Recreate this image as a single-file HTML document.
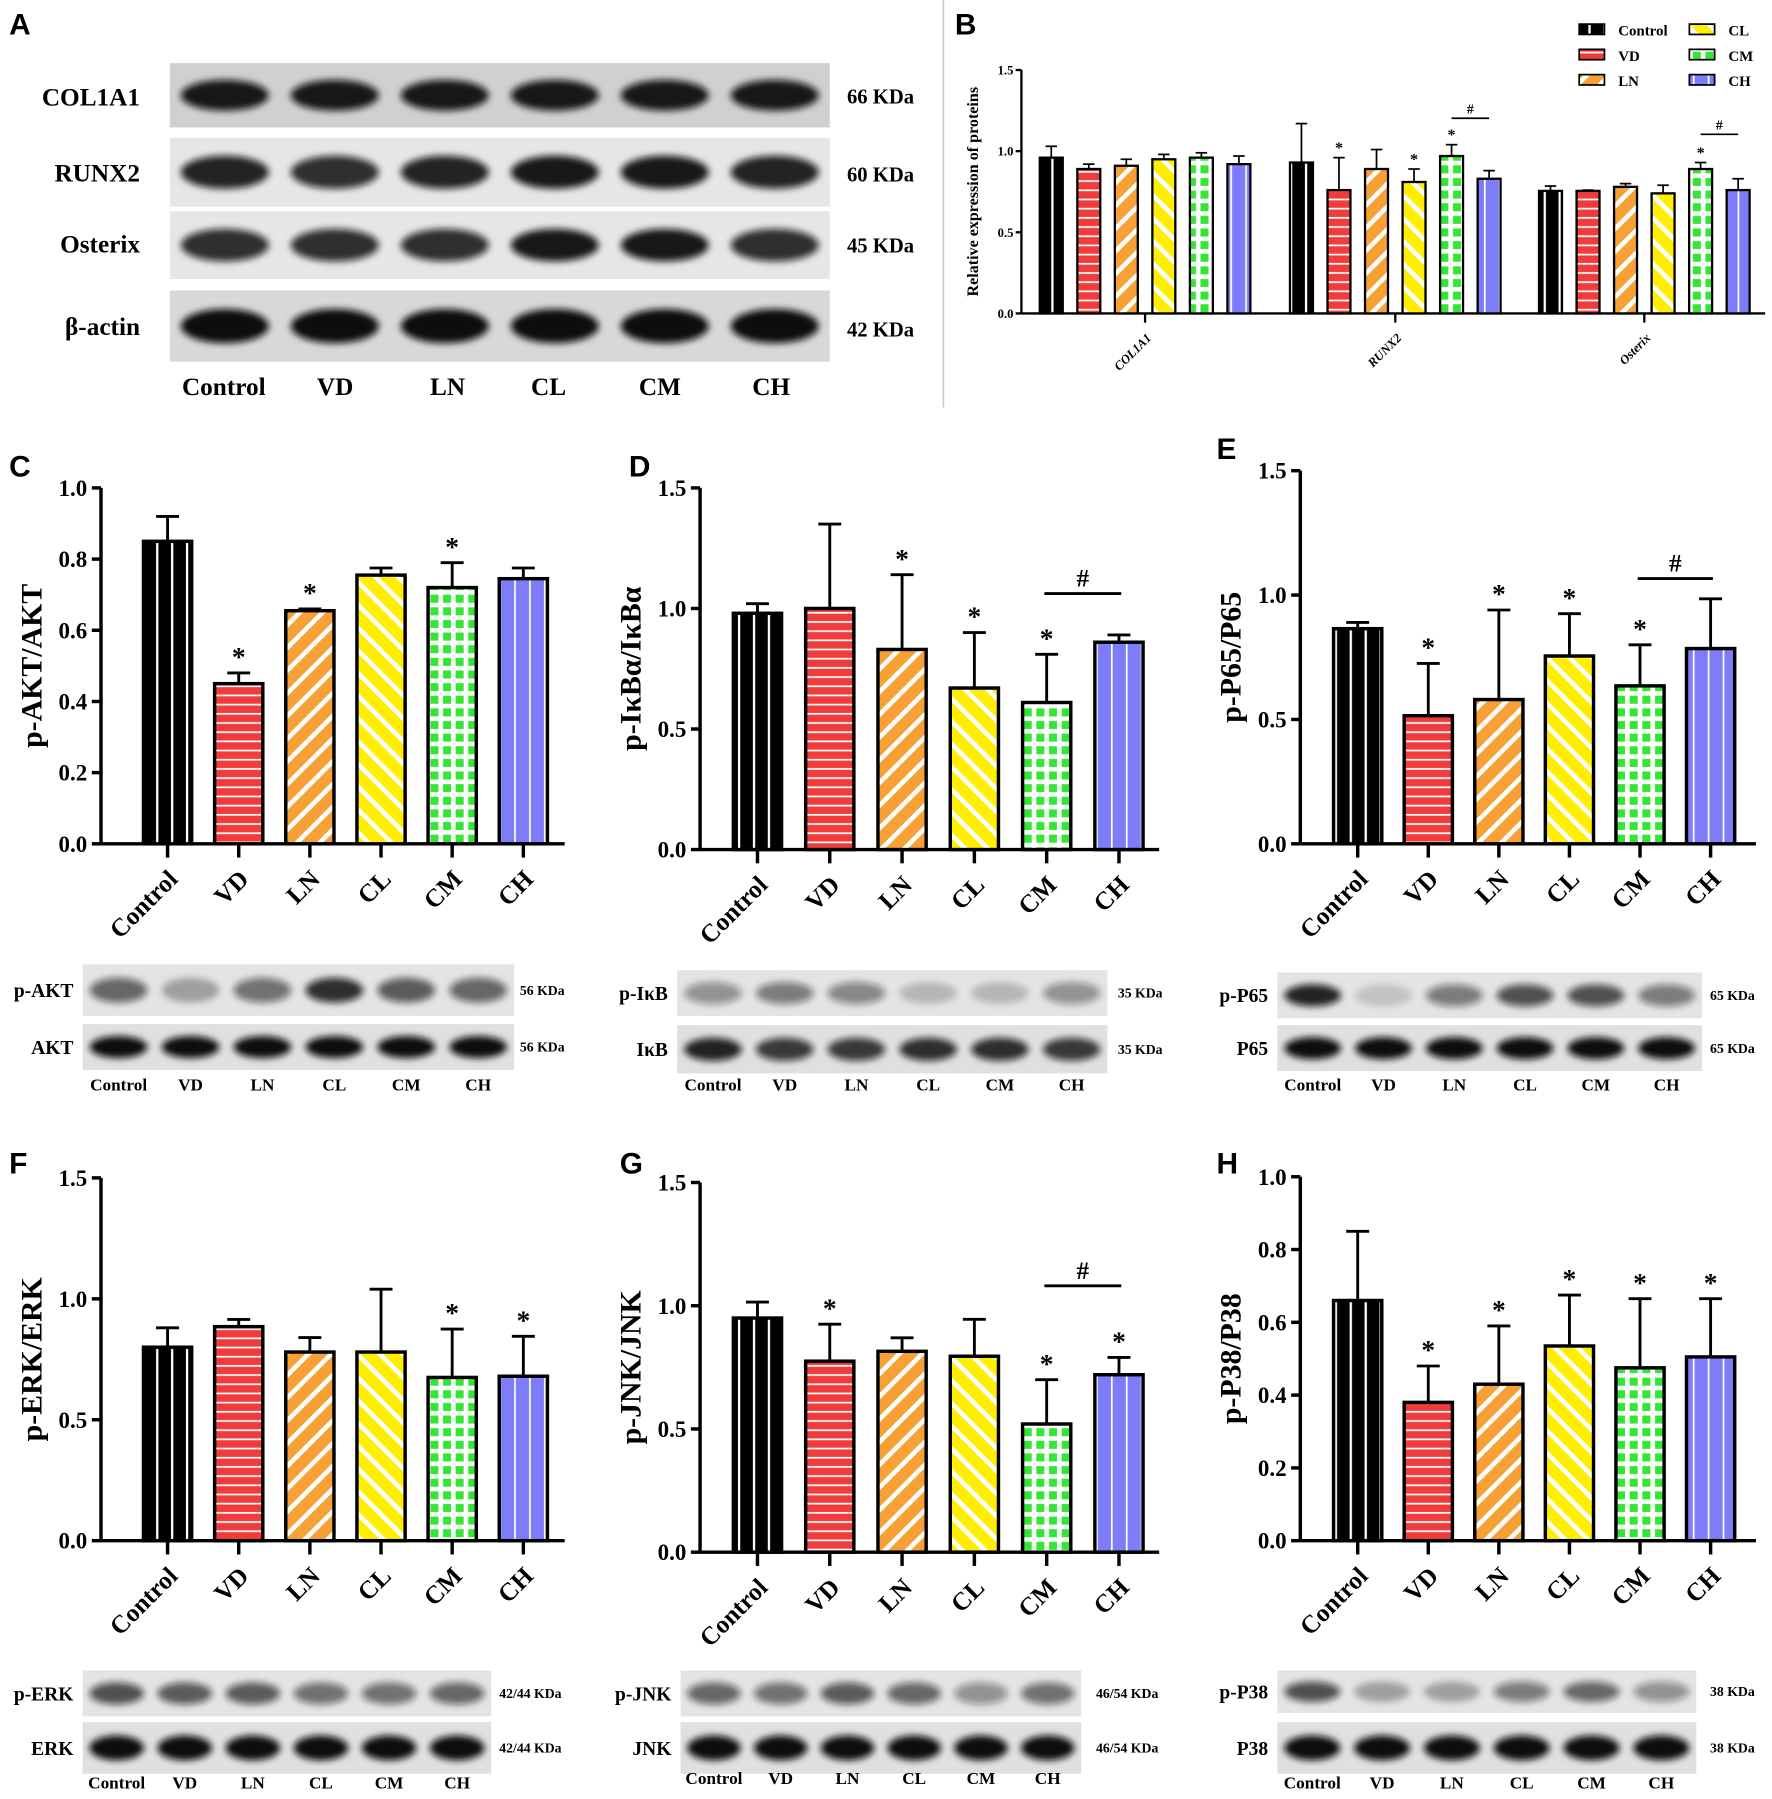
<!DOCTYPE html>
<html><head><meta charset="utf-8"><style>
html,body{margin:0;padding:0;background:#fff}
svg{display:block}
text{font-family:"Liberation Serif",serif;font-weight:bold;fill:#000}
.pl{font-family:"Liberation Sans",sans-serif;font-size:26px}
</style></head><body>
<svg id="fig" xmlns="http://www.w3.org/2000/svg" width="1772" height="1799" viewBox="0 0 1544 1567" preserveAspectRatio="none">
<defs>
<pattern id="pCtrl" patternUnits="userSpaceOnUse" width="13" height="10"><rect width="13" height="10" fill="#000"/><rect x="6" width="2" height="10" fill="#fff"/></pattern>
<pattern id="pVD" patternUnits="userSpaceOnUse" width="10" height="8"><rect width="10" height="8" fill="#f23c3c"/><rect y="5" width="10" height="1.5" fill="#fff"/></pattern>
<pattern id="pLN" patternUnits="userSpaceOnUse" width="14" height="14" patternTransform="rotate(45)"><rect width="14" height="14" fill="#f7a035"/><rect width="4" height="14" fill="#fff"/></pattern>
<pattern id="pCL" patternUnits="userSpaceOnUse" width="14" height="14" patternTransform="rotate(-45)"><rect width="14" height="14" fill="#ffee00"/><rect width="4" height="14" fill="#fff"/></pattern>
<pattern id="pCM" patternUnits="userSpaceOnUse" width="11" height="11"><rect width="11" height="11" fill="#fff"/><rect x="1" y="1" width="7" height="7" fill="#33e633"/></pattern>
<pattern id="pCH" patternUnits="userSpaceOnUse" width="13" height="10"><rect width="13" height="10" fill="#7d7dfa"/><rect x="6" width="1.5" height="10" fill="#fff"/></pattern>
<filter id="blur" x="-20%" y="-50%" width="140%" height="200%"><feGaussianBlur stdDeviation="3"/></filter>
</defs>
<g id="root"></g>
</svg>
<script>
// ---- chart data ----
const groups = ["Control","VD","LN","CL","CM","CH"];
const cVals = [0.85,0.45,0.655,0.755,0.72,0.745];
const cErrs = [0.07,0.03,0.005,0.02,0.07,0.03];
const cStars = [0,1,1,0,1,0];
const cTicks = ["0.0","0.2","0.4","0.6","0.8","1.0"];
const dVals = [0.98,1.0,0.83,0.67,0.61,0.86];
const dErrs = [0.04,0.35,0.31,0.23,0.2,0.03];
const dStars = [0,0,1,1,1,0];
const dTicks = ["0.0","0.5","1.0","1.5"];
const eVals = [0.865,0.515,0.58,0.755,0.635,0.785];
const eErrs = [0.025,0.21,0.36,0.17,0.165,0.2];
const eStars = [0,1,1,1,1,0];
const eTicks = ["0.0","0.5","1.0","1.5"];
const fVals = [0.80,0.885,0.78,0.78,0.675,0.68];
const fErrs = [0.08,0.03,0.06,0.26,0.2,0.165];
const fStars = [0,0,0,0,1,1];
const fTicks = ["0.0","0.5","1.0","1.5"];
const gVals = [0.95,0.775,0.815,0.795,0.52,0.72];
const gErrs = [0.065,0.15,0.055,0.15,0.18,0.07];
const gStars = [0,1,0,0,1,1];
const gTicks = ["0.0","0.5","1.0","1.5"];
const hVals = [0.66,0.38,0.43,0.535,0.475,0.505];
const hErrs = [0.19,0.1,0.16,0.14,0.19,0.16];
const hStars = [0,1,1,1,1,1];
const hTicks = ["0.0","0.2","0.4","0.6","0.8","1.0"];
const bCats = ["COL1A1","RUNX2","Osterix"];
const bCol1a1 = [0.96,0.89,0.91,0.95,0.96,0.92];
const bCol1a1Err = [0.07,0.03,0.04,0.03,0.03,0.05];
const bRunx2 = [0.93,0.76,0.89,0.81,0.97,0.83];
const bRunx2Err = [0.24,0.2,0.12,0.08,0.07,0.05];
const bOsterix = [0.755,0.755,0.78,0.74,0.89,0.76];
const bOsterixErr = [0.03,0.005,0.02,0.05,0.04,0.07];
const bStars = [[0,0,0,0,0,0],[0,1,0,1,1,0],[0,0,0,0,1,0]];
const bTicks = ["0.0","0.5","1.0","1.5"];

const pats = ["pCtrl","pVD","pLN","pCL","pCM","pCH"];
const NS = "http://www.w3.org/2000/svg";
const root = document.getElementById('root');
function el(tag, attrs, parent, txt){
  const e = document.createElementNS(NS, tag);
  for (const k in attrs) e.setAttribute(k, attrs[k]);
  if (txt !== undefined) e.textContent = txt;
  (parent||root).appendChild(e);
  return e;
}

function chart(o){
  const g = el('g', {});
  
  
  const ymax = parseFloat(o.ticks[o.ticks.length-1]);
  const y = v => o.y0 - (v/ymax)*(o.y0-o.y1);
  const x = i => o.x0 + o.first + i*o.step;
  // axes
  el('line',{x1:o.x0,y1:o.y1,x2:o.x0,y2:o.y0,stroke:'#000','stroke-width':3},g);
  el('line',{x1:o.x0,y1:o.y0,x2:o.xEnd,y2:o.y0,stroke:'#000','stroke-width':3},g);
  o.ticks.forEach(t=>{
    const ty = y(parseFloat(t));
    el('line',{x1:o.x0-8,y1:ty,x2:o.x0,y2:ty,stroke:'#000','stroke-width':3},g);
    const tt = el('text',{x:o.x0-12,y:ty+7,'text-anchor':'end','font-size':20},g,t);
    
    
  });
  const yt = el('text',{x:0,y:0,'text-anchor':'middle','font-size':26,transform:`translate(${o.x0-52},${(o.y0+o.y1)/2}) rotate(-90)`},g,o.ylabel);
  
  
  o.vals.forEach((v,i)=>{
    const cx = x(i), top = y(v), ey = y(v+o.errs[i]);
    el('line',{x1:cx,y1:top,x2:cx,y2:ey,stroke:'#000','stroke-width':2.5},g);
    el('line',{x1:cx-10,y1:ey,x2:cx+10,y2:ey,stroke:'#000','stroke-width':2.5},g);
    const r = el('rect',{x:cx-o.bw/2,y:top,width:o.bw,height:o.y0-top,fill:`url(#${pats[i]})`,stroke:'#000','stroke-width':3},g);
    
    
    el('line',{x1:cx,y1:o.y0,x2:cx,y2:o.y0+12,stroke:'#000','stroke-width':3},g);
    const lb = el('text',{x:0,y:0,'text-anchor':'end','font-size':22,transform:`translate(${cx+10},${o.y0+32}) rotate(-45)`},g,groups[i]);
    
    
    if (o.stars[i]) {
      const s = el('text',{x:cx,y:ey-6,'text-anchor':'middle','font-size':24},g,'*');
      
      
    }
  });
  if (o.hash) {
    const hy = o.hashY;
    el('line',{x1:x(4)-2,y1:hy,x2:x(5)+2,y2:hy,stroke:'#000','stroke-width':2.5},g);
    const h = el('text',{x:(x(4)+x(5))/2,y:hy-6,'text-anchor':'middle','font-size':22},g,'#');
    
    
  }
}

chart({name:'chart-c-pakt',x0:88,y0:735,y1:425,xEnd:492,first:58,step:62,bw:42,vals:cVals,errs:cErrs,stars:cStars,ticks:cTicks,ylabel:'p-AKT/AKT'});
chart({name:'chart-d-pikba',x0:610,y0:740,y1:425,xEnd:1010,first:50,step:63,bw:42,vals:dVals,errs:dErrs,stars:dStars,ticks:dTicks,ylabel:'p-IκBα/IκBα',hash:1,hashY:517});
chart({name:'chart-e-pp65',x0:1133,y0:735,y1:410,xEnd:1530,first:50,step:61.5,bw:42,vals:eVals,errs:eErrs,stars:eStars,ticks:eTicks,ylabel:'p-P65/P65',hash:1,hashY:504});
chart({name:'chart-f-perk',x0:88,y0:1342,y1:1026,xEnd:492,first:58,step:62,bw:42,vals:fVals,errs:fErrs,stars:fStars,ticks:fTicks,ylabel:'p-ERK/ERK'});
chart({name:'chart-g-pjnk',x0:610,y0:1352,y1:1030,xEnd:1010,first:50,step:63,bw:42,vals:gVals,errs:gErrs,stars:gStars,ticks:gTicks,ylabel:'p-JNK/JNK',hash:1,hashY:1120});
chart({name:'chart-h-pp38',x0:1133,y0:1342,y1:1025,xEnd:1530,first:50,step:61.5,bw:42,vals:hVals,errs:hErrs,stars:hStars,ticks:hTicks,ylabel:'p-P38/P38'});

// ---- chart B ----
(function(){
  const g = el('g',{});
  
  
  const x0=890,y0=273,y1=61,xEnd=1538;
  const y = v => y0 - v/1.5*(y0-y1);
  const series=[bCol1a1,bRunx2,bOsterix], errs=[bCol1a1Err,bRunx2Err,bOsterixErr];
  const gStart=[916,1134,1351], step=32.7, bw=20;
  el('line',{x1:x0,y1:y1,x2:x0,y2:y0,stroke:'#000','stroke-width':2},g);
  el('line',{x1:x0,y1:y0,x2:xEnd,y2:y0,stroke:'#000','stroke-width':2},g);
  bTicks.forEach(t=>{const ty=y(parseFloat(t));
    el('line',{x1:x0-5,y1:ty,x2:x0,y2:ty,stroke:'#000','stroke-width':2},g);
    el('text',{x:x0-7,y:ty+4,'text-anchor':'end','font-size':11},g,t);});
  el('text',{x:0,y:0,'text-anchor':'middle','font-size':14,transform:`translate(${x0-38},${(y0+y1)/2}) rotate(-90)`},g,'Relative expression of proteins');
  series.forEach((vals,k)=>{
    vals.forEach((v,i)=>{
      const cx=gStart[k]+i*step, top=y(v), ey=y(v+errs[k][i]);
      el('line',{x1:cx,y1:top,x2:cx,y2:ey,stroke:'#000','stroke-width':1.5},g);
      el('line',{x1:cx-5,y1:ey,x2:cx+5,y2:ey,stroke:'#000','stroke-width':1.5},g);
      const r=el('rect',{x:cx-bw/2,y:top,width:bw,height:y0-top,fill:`url(#${pats[i]})`,stroke:'#000','stroke-width':2},g);
      
      
      if (bStars[k][i]) el('text',{x:cx,y:ey-4,'text-anchor':'middle','font-size':14,'font-weight':'normal'},g,'*');
    });
    const mid=gStart[k]+2.5*step;
    el('line',{x1:mid,y1:y0,x2:mid,y2:y0+8,stroke:'#000','stroke-width':2},g);
    const lb=el('text',{x:0,y:0,'text-anchor':'end','font-size':11,'font-style':'italic',transform:`translate(${mid+6},${y0+22}) rotate(-45)`},g,bCats[k]);
    
    
  });
  [[1,103],[2,117]].forEach(([k,hy])=>{
    const a=gStart[k]+4*step,b=gStart[k]+5*step;
    el('line',{x1:a,y1:hy,x2:b,y2:hy,stroke:'#000','stroke-width':1.5},g);
    el('text',{x:(a+b)/2,y:hy-4,'text-anchor':'middle','font-size':12,'font-weight':'normal'},g,'#');
  });
  const lg=el('g',{},g);
  
  
  groups.forEach((n,i)=>{
    const lx = i<3 ? 1376 : 1472, ly = 28 + (i%3)*22;
    const col = i<3 ? i*2 : (i-3)*2+1;
  });
  const order=[[0,1376,28],[1,1376,50],[2,1376,72],[3,1472,28],[4,1472,50],[5,1472,72]];
  order.forEach(([i,lx,ly])=>{
    el('rect',{x:lx,y:ly-7,width:22,height:9,fill:`url(#${pats[i]})`,stroke:'#000','stroke-width':1.5},lg);
    el('text',{x:lx+34,y:ly+3,'font-size':13,'font-weight':'normal'},lg,groups[i]);
  });
})();

// ---- blots ----
function blot(name,x,y,w,h,ints,bg,lanePad){
  const g=el('g',{});
  
  
  el('rect',{x:x,y:y,width:w,height:h,fill:bg||'#dcdcdc'},g);
  const n=ints.length, lw=(w-2*(lanePad||0))/n;
  ints.forEach((v,i)=>{
    const cx=x+(lanePad||0)+lw*(i+0.5);
    el('ellipse',{cx:cx,cy:y+h/2,rx:lw*0.4,ry:h*0.24,fill:'#111','fill-opacity':v,filter:'url(#blur)'},g);
  });
}
function label(x,y,t,size,anchor,name){
  const e=el('text',{x:x,y:y,'font-size':size,'text-anchor':anchor||'start'},root,t);
  
  
}
// Panel A
blot('blot-col1a1',148,55,575,56,[0.95,0.95,0.95,0.95,0.95,0.95],'#d0d0d0');
blot('blot-runx2',148,120,575,60,[0.9,0.85,0.9,0.95,0.95,0.9],'#e6e6e6');
blot('blot-osterix',148,184,575,59,[0.85,0.85,0.85,0.95,0.95,0.85],'#e6e6e6');
blot('blot-bactin-a',148,253,575,62,[1,1,1,1,1,1],'#d8d8d8');
[['COL1A1',92],['RUNX2',158],['Osterix',220],['β-actin',292]].forEach(([t,yy])=>label(122,yy,t,22,'end','blot-row-label'));
[['66 KDa',90],['60 KDa',158],['45 KDa',220],['42 KDa',293]].forEach(([t,yy])=>label(738,yy,t,18,'start','kda-label'));
[['Control',195],['VD',292],['LN',390],['CL',478],['CM',575],['CH',672]].forEach(([t,xx])=>label(xx,344,t,22,'middle','lane-label'));
el('line',{x1:822,y1:0,x2:822,y2:355,stroke:'#ccc','stroke-width':1.5});
// small blots
function panelBlots(pre,x,w,yA,hA,yB,hB,nA,nB,kA,kB,iA,iB,laneY,kx){
  blot('blot-'+nA.toLowerCase(),x,yA,w,hA,iA,'#e4e4e4');
  blot('blot-'+nB.toLowerCase(),x,yB,w,hB,iB,'#e0e0e0');
  label(x-8,yA+hA/2+6,nA,17,'end','blot-row-label');
  label(x-8,yB+hB/2+6,nB,17,'end','blot-row-label');
  label(kx,yA+hA/2+4,kA,12,'start','kda-label');
  label(kx,yB+hB/2+4,kB,12,'start','kda-label');
  groups.forEach((gname,i)=>label(x+w/6*(i+0.5),laneY,gname,15,'middle','lane-label'));
}
panelBlots('c',72,376,840,45,892,40,'p-AKT','AKT','56 KDa','56 KDa',[0.6,0.3,0.55,0.85,0.65,0.6],[1,1,1,1,1,1],950,453);
panelBlots('d',590,375,845,40,893,42,'p-IκB','IκB','35 KDa','35 KDa',[0.4,0.5,0.45,0.2,0.2,0.4],[0.9,0.8,0.8,0.85,0.85,0.8],950,974);
panelBlots('e',1113,370,847,40,893,40,'p-P65','P65','65 KDa','65 KDa',[0.9,0.15,0.5,0.7,0.7,0.5],[1,1,1,1,1,1],950,1490);
panelBlots('f',72,356,1455,40,1500,45,'p-ERK','ERK','42/44 KDa','42/44 KDa',[0.7,0.65,0.65,0.55,0.55,0.6],[1,1,1,1,1,1],1558,435);
panelBlots('g',593,349,1455,40,1500,45,'p-JNK','JNK','46/54 KDa','46/54 KDa',[0.6,0.55,0.65,0.6,0.4,0.55],[1,1,1,1,1,1],1554,955);
panelBlots('h',1113,365,1455,37,1500,45,'p-P38','P38','38 KDa','38 KDa',[0.7,0.3,0.3,0.5,0.6,0.4],[1,1,1,1,1,1],1558,1490);
// panel letters
[['A',8,30],['B',832,30],['C',8,415],['D',548,415],['E',1060,400],['F',8,1022],['G',540,1022],['H',1060,1022]].forEach(([t,xx,yy])=>{
  const e=el('text',{x:xx,y:yy,class:'pl'},root,t);
  
  
});
</script>
</body></html>
